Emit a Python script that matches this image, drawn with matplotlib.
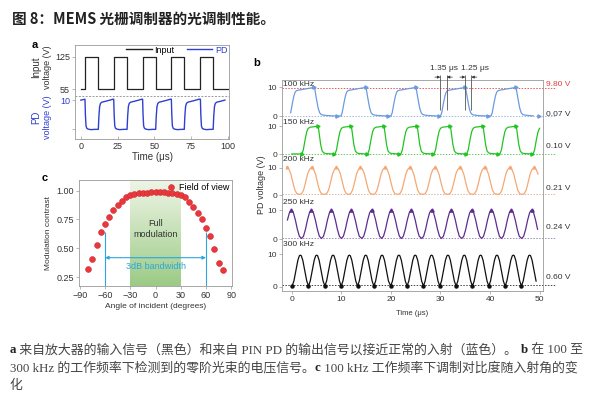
import numpy as np
import matplotlib
matplotlib.use("Agg")
import matplotlib.pyplot as plt
from matplotlib.colors import LinearSegmentedColormap
from matplotlib.lines import Line2D
from matplotlib.transforms import blended_transform_factory

plt.rcParams['font.family'] = ['Liberation Sans', 'DejaVu Sans']

W, H = 605, 399

# ---------------- panel a: input / PD signals (time in us)
input_rise = [2.8, 22.4, 42.1, 61.7, 81.5]
input_fall = [11.9, 31.5, 51.0, 70.5, 90.2]
input_low, input_high = 55, 125
# PD response read around each input edge
pd_drop_dt = [0.0, 0.3, 0.7, 1.2, 2.0, 4.0, 7.0]
pd_drop_v = [10.3, 5.0, 1.2, 0.4, 0.1, -0.1, 0.0]
pd_rise_dt = [0.0, 0.4, 0.9, 1.5, 2.5, 5.0, 8.0, 10.0]
pd_rise_v = [0.0, 4.5, 7.8, 8.9, 9.3, 9.6, 10.0, 10.3]
pd_start_v = 10.0

# ---------------- panel b: PD voltage at several frequencies
freq_labels = ['100 kHz', '150 kHz', '200 kHz', '250 kHz', '300 kHz']
low_levels = [0.07, 0.10, 0.21, 0.24, 0.60]
high_level_100 = 9.80
edge_rise = (29.95, 31.30)   # 1.35 us
edge_fall = (35.00, 36.25)   # 1.25 us

# 100 kHz: rise start times + one cycle shape
b100_starts = [-0.5, 9.9, 20.0, 30.0, 40.2]
b100_shape_t = [0, 0.25, 0.6, 0.9, 1.15, 1.4, 1.8, 2.5, 3.5, 4.5, 5.0, 5.1, 5.4, 5.8, 6.1, 6.4, 6.8, 7.5, 8.5, 9.6]
b100_shape_v = [0.07, 1.2, 4.5, 7.0, 8.3, 8.8, 9.0, 9.2, 9.5, 9.8, 10.0, 9.6, 6.5, 2.8, 1.2, 0.6, 0.4, 0.25, 0.15, 0.07]
# 150 kHz
b150_starts = [2.0, 8.7, 15.3, 22.0, 28.7, 35.3, 42.0, 48.7]
b150_shape_t = [0, 0.3, 0.7, 1.0, 1.3, 1.7, 2.6, 3.3, 3.5, 3.8, 4.1, 4.4, 4.8, 5.5, 6.4]
b150_shape_v = [0.1, 1.5, 5.5, 8.0, 9.2, 9.6, 9.8, 10.0, 7.5, 3.5, 1.2, 0.5, 0.25, 0.15, 0.1]
b150_lead_t = [0.0, 2.0]
b150_lead_v = [0.1, 0.1]
# 200 kHz: peak times
b200_peaks = [-1.0, 3.96, 9.0, 13.85, 18.8, 23.8, 28.9, 33.9, 38.9, 44.0, 48.9]
b200_shape_t = [-2.45, -2.0, -1.6, -1.2, -0.8, -0.45, -0.2, 0, 0.2, 0.45, 0.8, 1.2, 1.6, 2.0]
b200_shape_v = [0.25, 0.5, 1.8, 4.6, 7.6, 9.2, 9.7, 10.2, 9.7, 9.2, 7.6, 4.6, 1.8, 0.5]
# 250 kHz: peak times
b250_peaks = [-0.1, 3.94, 7.98, 12.0, 16.1, 20.1, 24.1, 28.2, 32.2, 36.3, 40.3, 44.3, 48.4]
b250_shape_t = [-2.0, -1.6, -1.2, -0.8, -0.4, -0.15, 0, 0.15, 0.4, 0.8, 1.2, 1.6]
b250_shape_v = [0.24, 1.0, 3.4, 6.6, 9.1, 9.8, 10.1, 9.8, 9.1, 6.6, 3.4, 1.0]
# 300 kHz: peak times
b300_peaks = [1.7, 5.0, 8.3, 11.6, 14.9, 18.2, 21.6, 24.9, 28.2, 31.5, 34.8, 38.1, 41.4, 44.7, 48.0]
b300_shape_t = [-1.65, -1.3, -0.9, -0.5, -0.2, 0, 0.2, 0.5, 0.9, 1.3]
b300_shape_v = [0.3, 1.8, 5.0, 8.2, 9.6, 9.8, 9.6, 8.2, 5.0, 1.8]

# ---------------- panel c: modulation contrast vs angle
angles = [-80, -75, -70, -65, -60, -55, -50, -45, -40, -35, -30, -25, -20, -15, -10, -5, 0,
          5, 10, 15, 20, 25, 30, 35, 40, 45, 50, 55, 60, 65, 70, 75, 80]
contrast = [0.32, 0.41, 0.53, 0.64, 0.71, 0.77, 0.83, 0.875, 0.91, 0.945, 0.96, 0.972, 0.978,
            0.982, 0.984, 0.985, 0.985, 0.985, 0.985, 0.984, 0.982, 0.975, 0.965, 0.948, 0.905,
            0.86, 0.81, 0.755, 0.68, 0.605, 0.49, 0.375, 0.315]
full_mod = (-30, 30)
bw_3db = (-60, 60)

title = '图 8：MEMS 光栅调制器的光调制性能。'
caption = [
    [('a', True), (' 来自放大器的输入信号（黑色）和来自 PIN PD 的输出信号以接近正常的入射（蓝色）。 ', False),
     ('b', True), (' 在 100 至', False)],
    [('300 kHz 的工作频率下检测到的零阶光束的电压信号。', False), ('c', True),
     (' 100 kHz 工作频率下调制对比度随入射角的变', False)],
    [('化', False)],
]

GREY = '#9a9a9a'
TXT = '#333333'
PD_BLUE = '#2f3fd0'
trace_colors = ['#6b9be0', '#22c422', '#f4a875', '#5d2d91', '#111111']
dot_colors = ['#9db8e0', '#66cc66', '#d9b9a0', '#9c8cba', '#444444']


def px_axes(fig, left, top, right, bottom):
    return fig.add_axes([left / W, 1 - bottom / H, (right - left) / W, (bottom - top) / H])


def style(ax, size=6.5):
    for s in ax.spines.values():
        s.set_color(GREY)
        s.set_linewidth(0.6)
    ax.tick_params(length=2, width=0.5, color=GREY, labelcolor=TXT, labelsize=size, pad=1.5)


def tile(starts, shape_t, shape_v, t_min, t_max):
    t = np.concatenate([s + np.asarray(shape_t) for s in starts])
    v = np.concatenate([np.asarray(shape_v, dtype=float) for s in starts])
    keep = (t >= t_min) & (t <= t_max)
    return t[keep], v[keep]


fig = plt.figure(figsize=(W / 100, H / 100), dpi=100)

# ================= panel a
ax_in = px_axes(fig, 75, 45, 229, 96)
ax_pd = px_axes(fig, 75, 96, 229, 139)

in_t, in_v = [0.0], [input_low]
for r, f in zip(input_rise, input_fall):
    in_t += [r, r, f, f]
    in_v += [input_low, input_high, input_high, input_low]
in_t.append(100.0)
in_v.append(input_low)
ax_in.plot(in_t, in_v, color='#222222', lw=0.9)
ax_in.set_xlim(-4, 101)
ax_in.set_ylim(40, 150)
ax_in.set_yticks([55, 125])
ax_in.set_xticks([])
ax_in.spines['bottom'].set_visible(False)
style(ax_in)

pd_t, pd_v = [0.0], [pd_start_v]
for r, f in zip(input_rise, input_fall):
    pd_t += list(r + np.array(pd_drop_dt))
    pd_v += pd_drop_v
    pd_t += list(f + np.array(pd_rise_dt))
    pd_v += pd_rise_v
pd_t, pd_v = np.array(pd_t), np.array(pd_v)
keep = pd_t <= 100
ax_pd.plot(pd_t[keep], pd_v[keep], color=PD_BLUE, lw=1.0)
ax_pd.set_xlim(-4, 101)
ax_pd.set_ylim(-3.3, 11.4)
ax_pd.set_yticks([0, 10])
ax_pd.set_yticklabels(['', '10'])
ax_pd.set_xticks([0, 25, 50, 75, 100])
ax_pd.spines['top'].set_visible(False)
style(ax_pd)
ax_pd.tick_params(axis='y', labelcolor=PD_BLUE)
ax_pd.tick_params(axis='x', direction='in', pad=2)
ax_pd.axhline(ax_pd.get_ylim()[1], color=GREY, lw=0.7, ls=(0, (2, 1.5)), clip_on=False)
ax_pd.set_xlabel('Time (μs)', fontsize=7, color=TXT, labelpad=1)

handles = [Line2D([], [], color='#222222', lw=1), Line2D([], [], color=PD_BLUE, lw=1)]
leg = ax_in.legend(handles, ['Input', 'PD'], ncol=2, loc='upper right', bbox_to_anchor=(0.99, 0.99),
                   frameon=False, fontsize=6.5, handlelength=2.8, handletextpad=0.3,
                   columnspacing=1.4, borderaxespad=0, borderpad=0)
leg.get_texts()[1].set_color(PD_BLUE)

fig.text(36 / W, 1 - 67 / H, 'Input', rotation=90, ha='center', va='center', fontsize=7, color=TXT)
fig.text(47 / W, 1 - 67 / H, 'voltage (V)', rotation=90, ha='center', va='center', fontsize=6.5, color=TXT)
fig.text(36 / W, 1 - 117 / H, 'PD', rotation=90, ha='center', va='center', fontsize=7, color=PD_BLUE)
fig.text(47 / W, 1 - 117 / H, 'voltage (V)', rotation=90, ha='center', va='center', fontsize=6.5, color=PD_BLUE)
fig.text(35 / W, 1 - 45 / H, 'a', fontsize=8, weight='bold', ha='center', va='center')

# ================= panel c
ax_c = px_axes(fig, 79, 180, 232, 286)
ax_c.set_xlim(-91, 91)
ax_c.set_ylim(0.172, 1.093)
green = LinearSegmentedColormap.from_list('g', ['#eef5e6', '#9ccb86'])
grad = np.linspace(0, 1, 100).reshape(-1, 1)
ax_c.imshow(grad, cmap=green, aspect='auto', origin='upper',
            extent=(full_mod[0], full_mod[1], 0.172, 1.093), zorder=0)
ax_c.vlines(list(bw_3db), 0.172, 0.645, color='#2ba6df', lw=0.8, zorder=1)
ax_c.annotate('', xy=(bw_3db[0], 0.418), xytext=(bw_3db[1], 0.418),
              arrowprops=dict(arrowstyle='<|-|>', color='#2ba6df', lw=0.8, mutation_scale=5,
                              shrinkA=0, shrinkB=0))
ax_c.text(0, 0.345, '3dB bandwidth', color='#2ba6df', fontsize=6.5, ha='center', va='center')
ax_c.text(0, 0.665, 'Full\nmodulation', color=TXT, fontsize=6.5, ha='center', va='center',
          linespacing=1.3)
ax_c.plot(angles, contrast, ls='', marker='o', ms=4.2, mfc='#e8383d', mec='#cf2a2f', mew=0.4, zorder=3)
ax_c.set_xticks([-90, -60, -30, 0, 30, 60, 90])
ax_c.set_yticks([0.25, 0.50, 0.75, 1.00])
ax_c.set_yticklabels(['0.25', '0.50', '0.75', '1.00'])
style(ax_c)
ax_c.set_xlabel('Angle of incident (degrees)', fontsize=6, color=TXT, labelpad=2)
ax_c.set_ylabel('Modulation contrast', fontsize=6, color=TXT, labelpad=3)
fov = Line2D([], [], ls='', marker='o', ms=4.2, mfc='#e8383d', mec='#cf2a2f', mew=0.4)
ax_c.legend([fov], ['Field of view'], loc='upper right', frameon=False, fontsize=6.5,
            handlelength=0.8, handletextpad=0.5, borderaxespad=0.2, borderpad=0.1)
fig.text(45 / W, 1 - 178 / H, 'c', fontsize=8, weight='bold', ha='center', va='center')

# ================= panel b
ax_b = px_axes(fig, 282, 80, 543, 291)
ax_b.set_xlim(-2.0, 50.7)
ax_b.set_ylim(0, 72.8)
bases = [60.3, 47.2, 33.1, 17.9, 1.4]
scales = [1.0, 0.97, 0.95, 1.0, 1.12]

t150, v150 = tile(b150_starts, b150_shape_t, b150_shape_v, 0.0, 50.0)
series = [
    tile(b100_starts, b100_shape_t, b100_shape_v, -0.3, 49.8),
    (np.concatenate([b150_lead_t, t150]), np.concatenate([b150_lead_v, v150])),
    tile(b200_peaks, b200_shape_t, b200_shape_v, -1.0, 49.8),
    tile(b250_peaks, b250_shape_t, b250_shape_v, -1.1, 49.8),
    tile(b300_peaks, b300_shape_t, b300_shape_v, 0.0, 49.8),
]
right_edge = 53.2
for i, (t, v) in enumerate(series):
    base, sc = bases[i], scales[i]
    ax_b.plot([-2.0, right_edge], [base + low_levels[i] * sc] * 2, color=dot_colors[i], lw=0.7,
              ls=(0, (1.5, 1.5)), clip_on=False, zorder=1)
    ax_b.plot(t, base + v * sc, color=trace_colors[i], lw=0.9, zorder=2)
ax_b.plot([-2.0, right_edge], [bases[0] + high_level_100] * 2, color='#e05a5a', lw=0.7,
          ls=(0, (1.5, 1.5)), clip_on=False, zorder=1)

# small markers at plateau ends / peaks
m100 = [s + b100_shape_t[i] for s in b100_starts for i in (10, 19)]
mv100 = [b100_shape_v[i] for s in b100_starts for i in (10, 19)]
ax_b.plot(m100, bases[0] + np.array(mv100), ls='', marker='>', ms=2.3, color=trace_colors[0])
m150 = [s + b150_shape_t[i] for s in b150_starts for i in (7, 14)]
mv150 = [b150_shape_v[i] for s in b150_starts for i in (7, 14)]
m150 = [b150_lead_t[-1]] + m150
mv150 = [b150_lead_v[-1]] + mv150
keep150 = np.array(m150) <= 50
ax_b.plot(np.array(m150)[keep150], bases[1] + np.array(mv150)[keep150] * scales[1], ls='',
          marker='>', ms=2.3, color=trace_colors[1])
ax_b.plot(b250_peaks, [bases[3] + 10.1] * len(b250_peaks), ls='', marker='^', ms=2.3, color=trace_colors[3])
ax_b.plot(b200_peaks, [bases[2] + 10.2 * scales[2]] * len(b200_peaks), ls='', marker='^', ms=2,
          color=trace_colors[2])
troughs300 = [p - 1.65 for p in b300_peaks]
ax_b.plot(troughs300, [bases[4] + 0.3 * scales[4]] * len(troughs300), ls='', marker='o', ms=2.2,
          color=trace_colors[4])

yt, ytl = [], []
for base, sc in zip(bases, scales):
    yt += [base, base + 10 * sc]
    ytl += ['0', '10']
ax_b.set_yticks(yt)
ax_b.set_yticklabels(ytl)
ax_b.set_xticks([0, 10, 20, 30, 40, 50])
style(ax_b, size=6)

label_y = [71.4, 58.3, 45.2, 30.7, 15.9]
for lab, y in zip(freq_labels, label_y):
    ax_b.text(-1.8, y, lab, fontsize=6, color=TXT, ha='left', va='center')

tr = blended_transform_factory(ax_b.transAxes, ax_b.transData)
right_y = [60.9, 49.7, 35.4, 21.9, 4.5]
for lv, y in zip(low_levels, right_y):
    ax_b.text(1.012, y, f'{lv:.2f} V', transform=tr, fontsize=6, color=TXT, ha='left', va='center')
ax_b.text(1.012, 71.3, f'{high_level_100:.2f} V', transform=tr, fontsize=6, color='#e04040',
          ha='left', va='center')

# rise / fall time annotation
for (x0, x1), lab, lx in [(edge_rise, '1.35 μs', 30.7), (edge_fall, '1.25 μs', 37.0)]:
    ax_b.vlines([x0, x1], 62.5, 74.5, color='#555555', lw=0.6, clip_on=False, zorder=3)
    ap = dict(arrowstyle='-|>', color='#333333', lw=0.5, mutation_scale=4, shrinkA=0, shrinkB=0)
    ax_b.annotate('', xy=(x0, 73.8), xytext=(x0 - 1.1, 73.8), arrowprops=ap, annotation_clip=False)
    ax_b.annotate('', xy=(x1, 73.8), xytext=(x1 + 1.1, 73.8), arrowprops=ap, annotation_clip=False)
    ax_b.text(lx, 76.6, lab, fontsize=6, color=TXT, ha='center', va='center')

ax_b.set_xlabel('Time (μs)', fontsize=5.5, color=TXT, labelpad=5)
fig.text(262 / W, 1 - 185 / H, 'PD voltage (V)', rotation=90, ha='center', va='center',
         fontsize=6.5, color=TXT)
fig.text(257 / W, 1 - 63 / H, 'b', fontsize=8, weight='bold', ha='center', va='center')

# ================= title and caption
fig.text(12 / W, 1 - 19 / H, title, fontsize=10.5, weight='bold', color='#222222',
         family=['Noto Sans CJK SC', 'DejaVu Sans'], ha='left', va='center')

renderer = fig.canvas.get_renderer()
for line, y in zip(caption, [350, 368, 386]):
    x = 10
    for s, bold in line:
        t = fig.text(x / W, 1 - y / H, s, fontsize=9.3, color='#222222' if bold else '#444444',
                     weight='bold' if bold else 'normal',
                     family=['Liberation Serif', 'Noto Sans CJK SC'], ha='left', va='center')
        x += t.get_window_extent(renderer).width

fig.savefig('out.png', dpi=100)
